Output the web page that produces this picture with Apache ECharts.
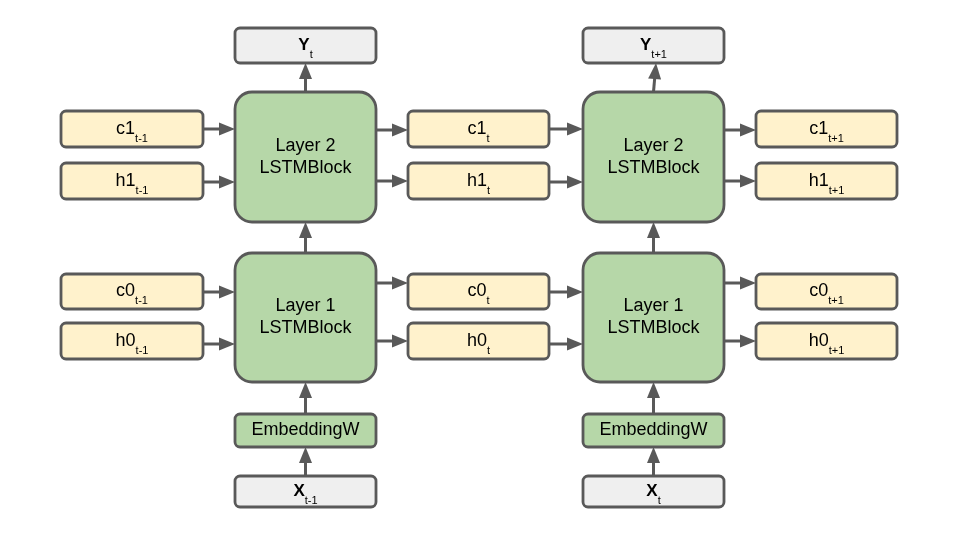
<!DOCTYPE html>
<html>
<head>
<meta charset="utf-8">
<script src="https://cdn.jsdelivr.net/npm/echarts@6/dist/echarts.min.js"></script>
<style>
  html, body { margin: 0; padding: 0; background: #fff; }
  #chart { width: 960px; height: 540px; }
</style>
</head>
<body>
<div id="chart"></div>
<script>
// labels
const steps = ["t-1", "t", "t+1"];
const layerNames = ["Layer 2", "Layer 1"];
const stateNames = [["c1", "h1"], ["c0", "h0"]];
const blockName = "LSTMBlock";
const embedName = "EmbeddingW";
const outputName = "Y";
const inputName = "X";
const outputSubs = ["t", "t+1"];
const inputSubs = ["t-1", "t"];

// layout, in diagram units (same as pixels of the 960x540 frame)
const stateCols = [[61, 203], [408, 549], [756, 897]];
const blockCols = [[235, 376], [583, 724]];
const layerRows = [[92, 222], [253, 382]];
const stateRows = [[[111, 147], [163, 199]], [[274, 309], [323, 359]]];
const outRow = [28, 63];
const embRow = [414, 447];
const inRow = [476, 507];
const arrowInY = [[129, 182], [292, 344]];
const arrowOutY = [[130, 181], [283, 341]];
const outSlant = [0, 2.5];

const FONT = "'Liberation Sans', Arial, sans-serif";
const STROKE = "#595959";
const kindStyle = {
    state: { fill: "#fff2cc", r: 5 },
    block: { fill: "#b6d7a8", r: 17 },
    embed: { fill: "#b6d7a8", r: 5 },
    io: { fill: "#efefef", r: 5 },
};

const sub = (main, s, bold) => `{${bold ? "b" : "m"}|${main}}{s|${s}}`;

// boxes
const boxes = [];
stateCols.forEach((col, ci) => {
    stateNames.forEach((pair, li) => {
        pair.forEach((nm, k) => {
            const row = stateRows[li][k];
            boxes.push({ value: [col[0], row[0], col[1], row[1]], kind: "state", text: sub(nm, steps[ci]) });
        });
    });
});
blockCols.forEach((col, bi) => {
    layerNames.forEach((ln, li) => {
        boxes.push({ value: [col[0], layerRows[li][0], col[1], layerRows[li][1]], kind: "block", text: "{L|" + ln + "}\n{L|" + blockName + "}" });
    });
    boxes.push({ value: [col[0], outRow[0], col[1], outRow[1]], kind: "io", text: sub(outputName, outputSubs[bi], true) });
    boxes.push({ value: [col[0], embRow[0], col[1], embRow[1]], kind: "embed", text: "{L|" + embedName + "}" });
    boxes.push({ value: [col[0], inRow[0], col[1], inRow[1]], kind: "io", text: sub(inputName, inputSubs[bi], true) });
});

// arrows [x0, y0, x1(tip), y1(tip)]
const arrows = [];
blockCols.forEach((col, bi) => {
    const cx = (col[0] + col[1]) / 2;
    layerRows.forEach((row, li) => {
        [0, 1].forEach((k) => {
            arrows.push([stateCols[bi][1], arrowInY[li][k], col[0], arrowInY[li][k]]);
            arrows.push([col[1], arrowOutY[li][k], stateCols[bi + 1][0], arrowOutY[li][k]]);
        });
    });
    arrows.push([cx, layerRows[0][0], cx + outSlant[bi], outRow[1]]);
    arrows.push([cx, layerRows[1][0], cx, layerRows[0][1]]);
    arrows.push([cx, embRow[0], cx, layerRows[1][1]]);
    arrows.push([cx, inRow[0], cx, embRow[1]]);
});

// main tokens get a tall line so the bottom-aligned subscript drops below the baseline
const richStyles = {
    L: { fontSize: 18, lineHeight: 22, fontFamily: FONT, fill: "#000" },
    m: { fontSize: 18, lineHeight: 30, fontFamily: FONT, fill: "#000" },
    b: { fontSize: 17, lineHeight: 30, fontWeight: "bold", fontFamily: FONT, fill: "#000" },
    s: { fontSize: 11, lineHeight: 13, verticalAlign: "bottom", fontFamily: FONT, fill: "#000" },
};

const renderBox = (params, api) => {
    const item = boxes[params.dataIndex];
    const st = kindStyle[item.kind];
    const p0 = api.coord([api.value(0), api.value(1)]);
    const p1 = api.coord([api.value(2), api.value(3)]);
    return {
        type: "rect",
        shape: { x: p0[0], y: p0[1], width: p1[0] - p0[0], height: p1[1] - p0[1], r: st.r },
        style: { fill: st.fill, stroke: STROKE, lineWidth: 2.8 },
        textContent: {
            style: { text: item.text, rich: richStyles, fill: "#000", fontFamily: FONT, fontSize: 18, align: "center", verticalAlign: "middle" },
        },
        textConfig: { position: "inside" },
    };
};

const renderArrow = (params, api) => {
    const p0 = api.coord([api.value(0), api.value(1)]);
    const p1 = api.coord([api.value(2), api.value(3)]);
    const dx = p1[0] - p0[0];
    const dy = p1[1] - p0[1];
    const len = Math.sqrt(dx * dx + dy * dy);
    const ux = dx / len;
    const uy = dy / len;
    const head = 16;
    const half = 6.5;
    const bx = p1[0] - ux * head;
    const by = p1[1] - uy * head;
    return {
        type: "group",
        children: [
            {
                type: "line",
                shape: { x1: p0[0], y1: p0[1], x2: bx + ux, y2: by + uy },
                style: { stroke: STROKE, lineWidth: 3 },
            },
            {
                type: "polygon",
                shape: { points: [[p1[0], p1[1]], [bx - uy * half, by + ux * half], [bx + uy * half, by - ux * half]] },
                style: { fill: STROKE },
            },
        ],
    };
};

const chart = echarts.init(document.getElementById("chart"), null, { width: 960, height: 540 });

chart.setOption({
    animation: false,
    backgroundColor: "#fff",
    grid: { left: 0, right: 0, top: 0, bottom: 0 },
    xAxis: { type: "value", min: 0, max: 960, show: false },
    yAxis: { type: "value", min: 0, max: 540, inverse: true, show: false },
    series: [
        {
            type: "custom",
            clip: false,
            renderItem: renderArrow,
            encode: { x: [0, 2], y: [1, 3] },
            data: arrows,
            z: 1,
        },
        {
            type: "custom",
            clip: false,
            renderItem: renderBox,
            encode: { x: [0, 2], y: [1, 3] },
            data: boxes.map((b) => b.value),
            z: 2,
        },
    ],
});
</script>
</body>
</html>
